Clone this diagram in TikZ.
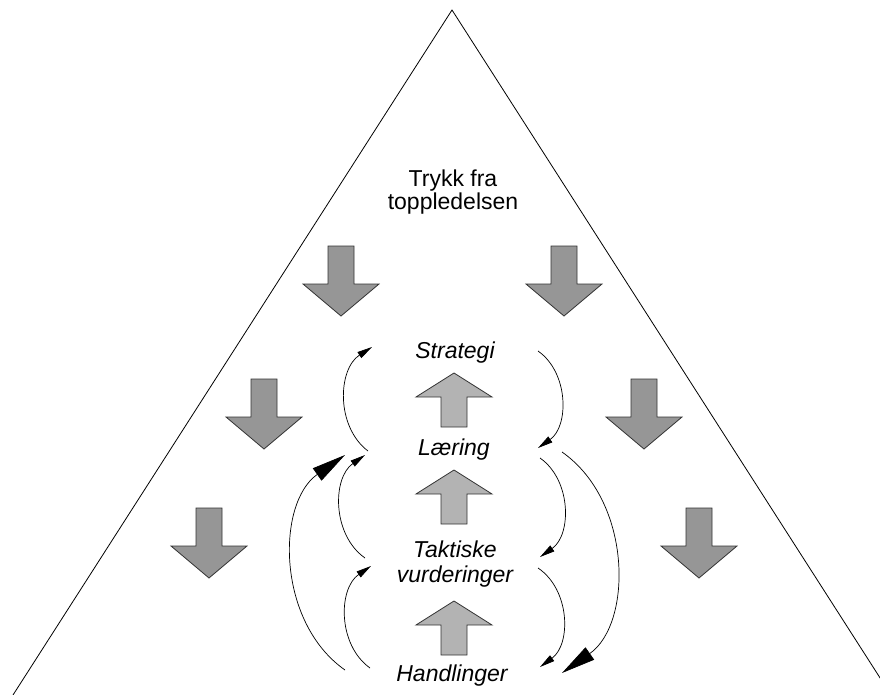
\documentclass[tikz,border=0pt]{standalone}
\usepackage{fontspec}
\setmainfont{Liberation Sans}
\usepackage{tikz}
\usetikzlibrary{arrows.meta}
\definecolor{downGray}{RGB}{150,150,150}
\definecolor{upGray}{RGB}{179,179,179}
\def\arcBend{55}

\begin{document}
\begin{tikzpicture}[
	x=1pt, y=-1pt,
	txt/.style={font=\fontsize{23}{23}\selectfont, align=center, anchor=base, inner sep=0pt},
	lvl/.style={txt, font=\fontsize{23}{25}\selectfont\itshape},
	downArrow/.style={fill=downGray, draw=black!80, line width=0.8pt},
	upArrow/.style={fill=upGray, draw=black!80, line width=0.8pt},
	cycArc/.style={line width=0.7pt, -{Triangle[length=15pt, width=7pt]}},
	bigArc/.style={line width=0.7pt, -{Triangle[length=34pt, width=15pt]}}
	]

	\useasboundingbox (0,0) rectangle (880,695);
	\clip (0,0) rectangle (880,695);

	% Pyramid
	\coordinate (top) at (452,10);
	\coordinate (baseL) at (13,695);
	\coordinate (baseR) at (891,695);
	\draw[line width=0.8pt] (baseL) -- (top) -- (baseR);

	% Texts (base = last line)
	\node[txt] (trykk) at (453,209) {Trykk fra\\toppledelsen};
	\node[lvl] (strategi) at (455,358) {Strategi};
	\node[lvl] (laering) at (454,455) {Læring};
	\node[lvl] (taktiske) at (455,582) {Taktiske\\vurderinger};
	\node[lvl] (handlinger) at (452,681) {Handlinger};

	% Pressure from the top
	\foreach \x/\y in {341/246, 564/246, 264/379, 644/379, 209/508, 699/508}
		\draw[downArrow] (\x-13,\y) -- ++(26,0) -- ++(0,38) -- ++(25,0)
			-- (\x,\y+70) -- (\x-38,\y+38) -- ++(25,0) -- cycle;

	% Upwards between the levels
	\foreach \y in {373, 470, 601}
		\draw[upArrow] (454,\y) -- (492,\y+24) -- (467,\y+24) -- (467,\y+54)
			-- (441,\y+54) -- (441,\y+24) -- (416,\y+24) -- cycle;

	% Left side, going up
	\coordinate (lS1) at (368,451);
	\coordinate (lE1) at (372,347);
	\coordinate (lS2) at (365,558);
	\coordinate (lE2) at (365,455);
	\coordinate (lS3) at (370,668);
	\coordinate (lE3) at (371,566);
	\coordinate (lS4) at (345,670);
	\coordinate (lE4) at (345,455);
	\draw[cycArc] (lS1) to[bend left=\arcBend] (lE1);
	\draw[cycArc] (lS2) to[bend left=\arcBend] (lE2);
	\draw[cycArc] (lS3) to[bend left=\arcBend] (lE3);
	\draw[bigArc] (lS4) to[bend left=\arcBend] (lE4);

	% Right side, going down
	\coordinate (rS1) at (538,351);
	\coordinate (rE1) at (538,448);
	\coordinate (rS2) at (540,458);
	\coordinate (rE2) at (540,557);
	\coordinate (rS3) at (538,568);
	\coordinate (rE3) at (540,667);
	\coordinate (rS4) at (562,452);
	\coordinate (rE4) at (562,673);
	\draw[cycArc] (rS1) to[bend left=\arcBend] (rE1);
	\draw[cycArc] (rS2) to[bend left=\arcBend] (rE2);
	\draw[cycArc] (rS3) to[bend left=\arcBend] (rE3);
	\draw[bigArc] (rS4) to[bend left=\arcBend] (rE4);
\end{tikzpicture}
\end{document}
